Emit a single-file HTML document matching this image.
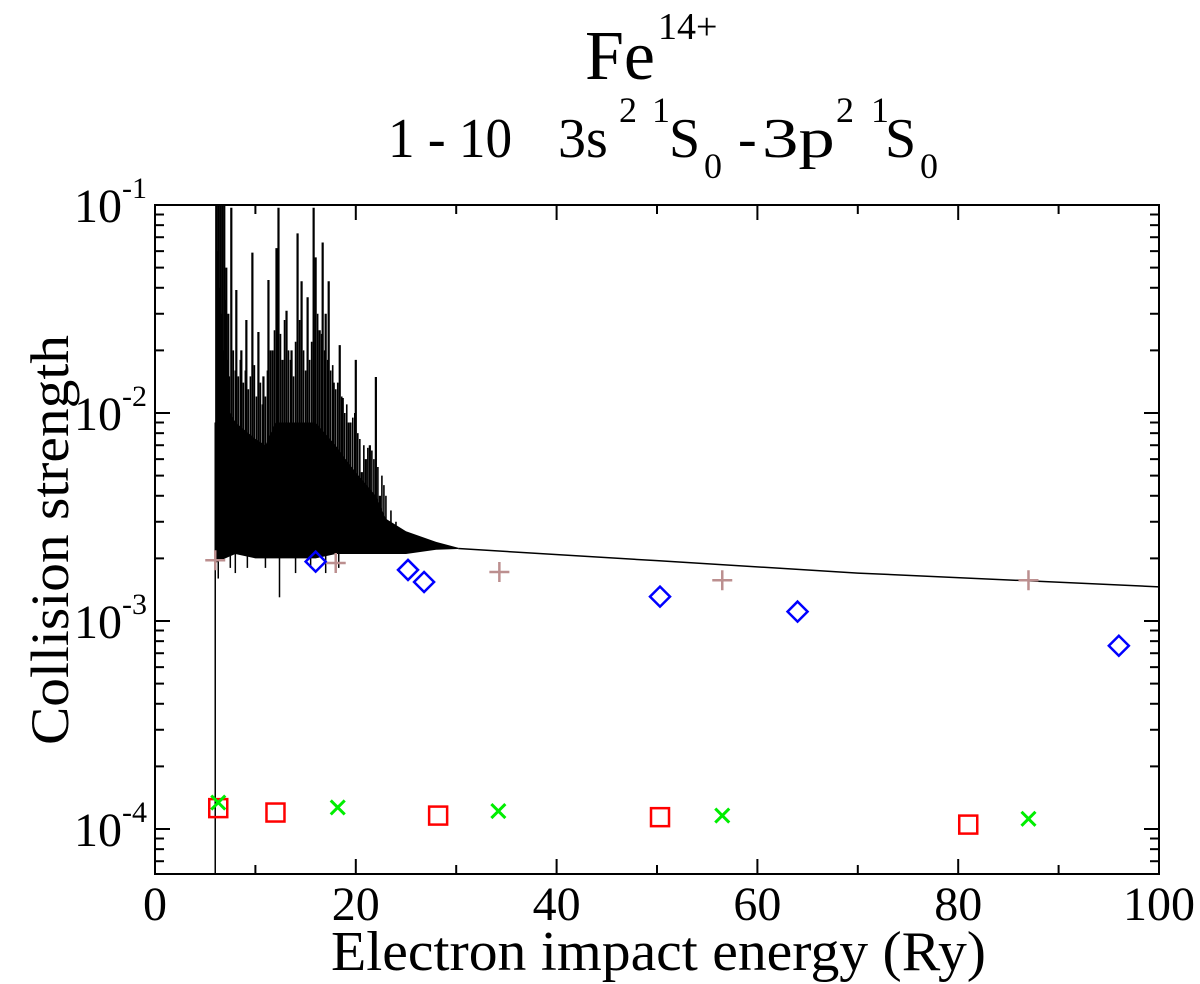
<!DOCTYPE html>
<html><head><meta charset="utf-8"><style>
html,body{margin:0;padding:0;background:#fff}
body{position:relative;width:1200px;height:984px;overflow:hidden}
svg{display:block;position:absolute;left:0;top:0}
svg text{font-family:'Liberation Serif',serif;fill:#000}
.t{position:absolute;font-family:'Liberation Serif',serif;color:#000;line-height:1;white-space:nowrap;margin:0}
</style></head><body>
<div>
<span class="t" style="left:585px;top:22px;font-size:70px">Fe</span>
<span class="t" style="left:658px;top:8px;font-size:38px">14+</span>
</div>
<div>
<span class="t" style="left:388px;top:111px;font-size:56px;transform:scaleX(0.95);transform-origin:left">1 - 10</span>
<span class="t" style="left:558px;top:111px;font-size:56px">3s</span>
<span class="t" style="left:619px;top:92px;font-size:36px">2</span>
<span class="t" style="left:652px;top:92px;font-size:36px">1</span>
<span class="t" style="left:669px;top:111px;font-size:56px">S</span>
<span class="t" style="left:704px;top:148px;font-size:36px">0</span>
<span class="t" style="left:738px;top:111px;font-size:56px">-</span>
<span class="t" style="left:762px;top:111px;font-size:56px;transform:scaleX(1.3);transform-origin:left">3p</span>
<span class="t" style="left:836px;top:92px;font-size:36px">2</span>
<span class="t" style="left:871px;top:92px;font-size:36px">1</span>
<span class="t" style="left:885px;top:111px;font-size:56px">S</span>
<span class="t" style="left:920px;top:148px;font-size:36px">0</span>
</div>
<svg id="chart" width="1200" height="984" viewBox="0 0 1200 984" xmlns="http://www.w3.org/2000/svg">
<text x="331" y="970" font-size="56" textLength="655" lengthAdjust="spacingAndGlyphs">Electron impact energy (Ry)</text>
<text transform="translate(68,745) rotate(-90)" font-size="54" textLength="410" lengthAdjust="spacingAndGlyphs">Collision strength</text>
<g id="plot"></g>
</svg>
<script>
// ---- data ----
const xTicks = [0, 20, 40, 60, 80, 100];
const xTickLabels = ["0", "20", "40", "60", "80", "100"];
const yDecades = [-1, -2, -3, -4];
const yTickLabels = ["-1", "-2", "-3", "-4"];
// resonance spikes (energy, peak value)
const spikeE = [6.1,6.3,6.5,6.7,6.9,7.1,7.3,7.6,8.1,8.6,9.1,9.7,10.3,10.8,11.3,11.7,12.1,12.3,12.7,13.1,13.6,14.2,14.6,15.2,15.8,16.0,16.4,16.7,17.0,17.3,17.8,18.4,18.7,19.3,20.0,20.6,21.0,21.4,22.0,22.4,23.2];
const spikeV = [0.1,0.1,0.1,0.1,0.1,0.05,0.03,0.097,0.039,0.02,0.028,0.059,0.0245,0.015,0.0436,0.02,0.062,0.097,0.018,0.031,0.02,0.073,0.043,0.036,0.097,0.056,0.025,0.066,0.03,0.043,0.014,0.0212,0.0118,0.009,0.018,0.0052,0.006,0.007,0.0149,0.004,0.0029];
// secondary resonances (moderate height)
const minorE = [6.2,6.4,6.6,6.8,7.0,7.2,7.4,7.8,8.0,8.3,8.5,8.8,9.0,9.3,9.5,9.9,10.1,10.5,10.7,11.0,11.2,11.5,11.9,12.2,12.5,12.9,13.3,13.5,13.8,14.0,14.4,14.8,15.0,15.4,15.6,16.2,16.6,16.9,17.2,17.5,17.7,18.0,18.2,18.6,18.9,19.1,19.5,19.7,19.9,20.2,20.4,20.8,21.2,21.6,21.8,22.2,22.6,22.8,23.0,23.5,24.0,24.5];
const minorV = [0.06,0.04,0.03,0.02,0.035,0.018,0.015,0.02,0.016,0.015,0.018,0.014,0.016,0.013,0.015,0.017,0.012,0.014,0.011,0.012,0.016,0.02,0.025,0.03,0.024,0.028,0.02,0.018,0.015,0.022,0.028,0.02,0.016,0.018,0.022,0.03,0.024,0.02,0.018,0.016,0.017,0.013,0.014,0.012,0.01,0.011,0.009,0.0095,0.01,0.008,0.0075,0.007,0.0068,0.0066,0.006,0.0055,0.005,0.0045,0.004,0.0034,0.003,0.0027];
// dense band envelopes
const bandE  = [6.0, 7, 8, 10, 11, 12, 14, 16, 18, 19, 20, 22, 23, 25, 28, 30.2];
const bandHi = [0.009,0.011,0.009,0.0075,0.007,0.009,0.009,0.009,0.007,0.006,0.0052,0.004,0.0031,0.0027,0.0024,0.00225];
const bandLo = [0.0019,0.0020,0.0021,0.0020,0.0020,0.0020,0.0020,0.0020,0.0021,0.0021,0.0021,0.0021,0.0021,0.0021,0.0022,0.00222];
// downward dips
const dipE = [6.3, 7.5, 8.0, 9.2, 11.0, 12.4, 14.0, 15.5, 17.0, 18.3];
const dipV = [0.0016, 0.0018, 0.0017, 0.0018, 0.0018, 0.0013, 0.0017, 0.0018, 0.0017, 0.0018];
// smooth tail
const tailE = [30.2, 50, 70, 100];
const tailV = [0.00223, 0.00195, 0.0017, 0.00146];
const thresholdE = 6.0;
// symbol series
const plusE = [6, 18, 34.3, 56.5, 87];
const plusV = [1.96e-3, 1.90e-3, 1.72e-3, 1.57e-3, 1.57e-3];
const diamE = [16, 25.2, 26.8, 50.3, 64, 96];
const diamV = [1.93e-3, 1.76e-3, 1.54e-3, 1.31e-3, 1.11e-3, 7.6e-4];
const sqE = [6.3, 12, 28.2, 50.3, 81];
const sqV = [1.26e-4, 1.2e-4, 1.16e-4, 1.14e-4, 1.05e-4];
const crossE = [6.3, 18.2, 34.2, 56.5, 87];
const crossV = [1.34e-4, 1.27e-4, 1.22e-4, 1.16e-4, 1.12e-4];

// ---- axes ----
const L = 155, R = 1159, T = 205, B = 874;
const yMinLog = -1 - (B - T) / 208;
const sx = e => L + (e / 100) * (R - L);
const sy = v => T + (-1 - Math.log10(v)) * 208;
const NS = "http://www.w3.org/2000/svg";
const plot = document.getElementById('plot');
function mk(tag, attrs, parent) {
  const el = document.createElementNS(NS, tag);
  for (const k in attrs) el.setAttribute(k, attrs[k]);
  (parent || plot).appendChild(el);
  return el;
}
const clip = mk('clipPath', {id: 'clipArea'});
mk('rect', {x: L, y: T, width: R - L, height: B - T}, clip);
const data = mk('g', {'clip-path': 'url(#clipArea)'});



let pts = [];
for (let i = 0; i < bandE.length; i++) pts.push(sx(bandE[i]) + ',' + sy(bandHi[i]));
for (let i = bandE.length - 1; i >= 0; i--) pts.push(sx(bandE[i]) + ',' + sy(bandLo[i]));
mk('polygon', {points: pts.join(' '), fill: '#000'}, data);
for (let i = 0; i < spikeE.length; i++) {
  const l = mk('line', {x1: sx(spikeE[i]), x2: sx(spikeE[i]), y1: sy(0.0021), y2: sy(spikeV[i]), stroke: '#000', 'stroke-width': 2.2}, data);
  
  
}
for (let i = 0; i < minorE.length; i++) {
  const l = mk('line', {x1: sx(minorE[i]), x2: sx(minorE[i]), y1: sy(0.0021), y2: sy(minorV[i]), stroke: '#000', 'stroke-width': 1.6}, data);
  
  
}
for (let i = 0; i < dipE.length; i++) {
  mk('line', {x1: sx(dipE[i]), x2: sx(dipE[i]), y1: sy(0.0021), y2: sy(dipV[i]), stroke: '#000', 'stroke-width': 1.5}, data);
}
mk('line', {x1: sx(thresholdE), x2: sx(thresholdE), y1: B, y2: sy(bandHi[0]), stroke: '#000', 'stroke-width': 1.5}, data);
mk('polyline', {points: tailE.map((e, i) => sx(e) + ',' + sy(tailV[i])).join(' '), fill: 'none', stroke: '#000', 'stroke-width': 1.5}, data);

const sym = mk('g', {});


plusE.forEach((e, i) => {
  const x = sx(e), y = sy(plusV[i]);
  const p = mk('path', {d: `M${x-10},${y}H${x+10}M${x},${y-10}V${y+10}`, stroke: '#bc8f8f', 'stroke-width': 2.5, fill: 'none'}, sym);
  
  
});
diamE.forEach((e, i) => {
  const x = sx(e), y = sy(diamV[i]);
  const p = mk('path', {d: `M${x},${y-10}L${x+10},${y}L${x},${y+10}L${x-10},${y}Z`, stroke: '#0000ff', 'stroke-width': 2.5, fill: 'none'}, sym);
  
  
});
sqE.forEach((e, i) => {
  const x = sx(e), y = sy(sqV[i]);
  const p = mk('rect', {x: x - 9, y: y - 9, width: 18, height: 18, stroke: '#ff0000', 'stroke-width': 2.5, fill: 'none'}, sym);
  
  
});
crossE.forEach((e, i) => {
  const x = sx(e), y = sy(crossV[i]);
  const p = mk('path', {d: `M${x-7},${y-7}L${x+7},${y+7}M${x+7},${y-7}L${x-7},${y+7}`, stroke: '#00ee00', 'stroke-width': 3, fill: 'none'}, sym);
  
  
});

const frame = mk('rect', {x: L, y: T, width: R - L, height: B - T, fill: 'none', stroke: '#000', 'stroke-width': 2});



const xAxis = mk('g', {});


for (let e = 0; e <= 100; e += 10) {
  const len = e % 20 === 0 ? 15 : 9;
  mk('line', {x1: sx(e), x2: sx(e), y1: B, y2: B - len, stroke: '#000', 'stroke-width': 2}, xAxis);
  mk('line', {x1: sx(e), x2: sx(e), y1: T, y2: T + len, stroke: '#000', 'stroke-width': 2}, xAxis);
}
xTicks.forEach((e, i) => {
  const t = mk('text', {x: sx(e), y: 920, 'font-size': 48, 'text-anchor': 'middle'}, xAxis);
  t.textContent = xTickLabels[i];
  
  
});
const yAxis = mk('g', {});


for (let d = -5; d <= -1; d++) {
  for (let m = 1; m <= 9; m++) {
    const lv = d + Math.log10(m);
    if (lv > -1 + 1e-9 || lv < yMinLog) continue;
    const y = sy(Math.pow(10, lv));
    const len = m === 1 ? 15 : 9;
    mk('line', {x1: L, x2: L + len, y1: y, y2: y, stroke: '#000', 'stroke-width': 2}, yAxis);
    mk('line', {x1: R, x2: R - len, y1: y, y2: y, stroke: '#000', 'stroke-width': 2}, yAxis);
  }
}
yDecades.forEach((d, i) => {
  const y = sy(Math.pow(10, d));
  const g = mk('g', {}, yAxis);
  
  
  const t = mk('text', {x: 122, y: y + 17, 'font-size': 48, 'text-anchor': 'end'}, g);
  t.textContent = '10';
  const s = mk('text', {x: 122, y: y - 7, 'font-size': 30}, g);
  s.textContent = yTickLabels[i];
});
</script>
</body></html>
